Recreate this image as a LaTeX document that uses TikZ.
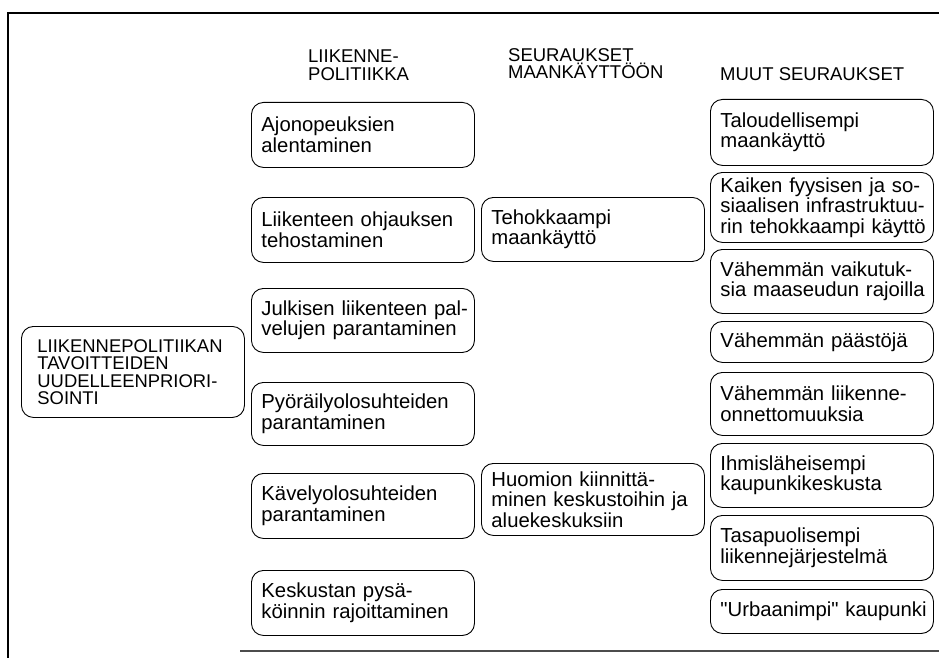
\documentclass[tikz,border=0pt]{standalone}
\usepackage{fontspec}
\setmainfont{Liberation Sans}[Ligatures=TeXOff]
\usetikzlibrary{positioning}

\begin{document}
\begin{tikzpicture}[x=1pt, y=-1pt,
  box/.style={draw, line width=0.9pt, rounded corners=12pt, anchor=north west, align=left,
              text width=215pt, inner xsep=4pt, inner ysep=0pt,
              execute at begin node={\leftskip=6pt\relax},
              font=\fontsize{20.3}{20.5}\selectfont},
  goalbox/.style={box, text width=207pt, inner xsep=8pt, execute at begin node={\leftskip=8pt\relax},
                  font=\fontsize{18.4}{17.5}\selectfont},
  head/.style={anchor=north west, align=left, inner sep=0pt, font=\fontsize{18.5}{17.5}\selectfont}]

\useasboundingbox (0,0) rectangle (939,658);

% ---------- frame ----------
\draw[line width=1.8pt] (8,658) -- (8,13) -- (939,13);
\draw[line width=1.2pt, black!70] (240,651) -- (939,651);

% ---------- column headings ----------
\node[head] (hpol)   at (308,50) {LIIKENNE-\\POLITIIKKA};
\node[head] (hland)  at (508,48) {SEURAUKSET\\MAANKÄYTTÖÖN};
\node[head] (hother) at (720,67) {MUUT SEURAUKSET};

% ---------- starting point ----------
\node[goalbox, minimum height=91pt] (goal) at (21,326)
  {LIIKENNEPOLITIIKAN\\TAVOITTEIDEN\\UUDELLEENPRIORI-\\SOINTI};

% ---------- transport policy ----------
\node[box, minimum height=65pt] (speed)   at (251,102) {Ajonopeuksien\\alentaminen};
\node[box, minimum height=65pt] (control) at (251,197) {Liikenteen ohjauksen\\tehostaminen};
\node[box, minimum height=64pt] (transit) at (251,288) {Julkisen liikenteen pal-\\velujen parantaminen};
\node[box, minimum height=63pt] (cycle)   at (251,382) {Pyöräilyolosuhteiden\\parantaminen};
\node[box, minimum height=65pt] (walk)    at (251,473) {Kävelyolosuhteiden\\parantaminen};
\node[box, minimum height=65pt] (parking) at (251,570) {Keskustan pysä-\\köinnin rajoittaminen};

% ---------- land use ----------
\node[box, minimum height=64pt] (dense)   at (481,197) {Tehokkaampi\\maankäyttö};
\node[box, minimum height=72pt] (centres) at (481,463) {Huomion kiinnittä-\\minen keskustoihin ja\\aluekeskuksiin};

% ---------- other consequences ----------
\node[box, minimum height=66pt] (econ)  at (710,99)  {Taloudellisempi\\maankäyttö};
\node[box, minimum height=70pt] (infra) at (710,172) {Kaiken fyysisen ja so-\\siaalisen infrastruktuu-\\rin tehokkaampi käyttö};
\node[box, minimum height=64pt] (rural) at (710,249) {Vähemmän vaikutuk-\\sia maaseudun rajoilla};
\node[box, minimum height=41pt] (emis)  at (710,321) {Vähemmän päästöjä};
\node[box, minimum height=63pt] (acc)   at (710,372) {Vähemmän liikenne-\\onnettomuuksia};
\node[box, minimum height=64pt] (human) at (710,443) {Ihmisläheisempi\\kaupunkikeskusta};
\node[box, minimum height=65pt] (equal) at (710,515) {Tasapuolisempi\\liikennejärjestelmä};
\node[box, minimum height=44pt] (urban) at (710,589) {"Urbaanimpi" kaupunki};

\end{tikzpicture}
\end{document}
